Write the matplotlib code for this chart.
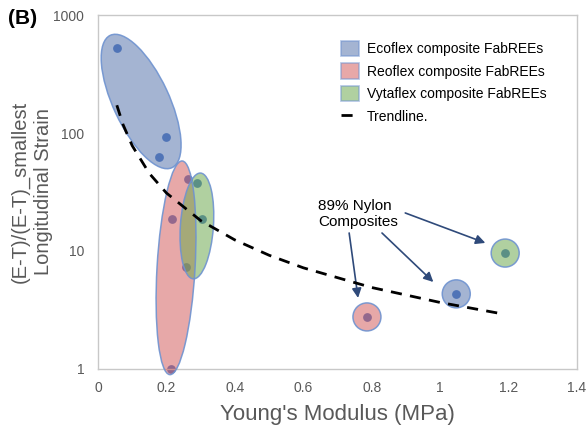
import matplotlib
matplotlib.use("Agg")
import matplotlib.pyplot as plt
from matplotlib.patches import Ellipse, Patch
from matplotlib.lines import Line2D
from matplotlib.transforms import ScaledTranslation
from matplotlib.ticker import FixedLocator, NullLocator

plt.rcParams["font.family"] = ["Liberation Sans", "DejaVu Sans"]

# scatter points (Young's modulus in MPa, normalised strain)
eco_x = [0.056, 0.200, 0.178]
eco_y = [525, 92, 63]
reo_x = [0.263, 0.216, 0.257, 0.213]
reo_y = [41, 18.7, 7.3, 1.0]
vyta_x = [0.289, 0.304]
vyta_y = [37.7, 18.7]

# 89% nylon composites (Reoflex, Ecoflex, Vytaflex)
nylon_x = [0.786, 1.047, 1.190]
nylon_y = [2.76, 4.33, 9.6]

# trendline
trend_x = [0.055, 0.073, 0.1, 0.15, 0.2, 0.3, 0.4, 0.5, 0.6, 0.8, 1.0, 1.19]
trend_y = [172, 118, 78, 45.4, 31, 18.1, 12.4, 9.2, 7.2, 4.9, 3.66, 2.9]

labels = ["Ecoflex composite FabREEs", "Reoflex composite FabREEs",
          "Vytaflex composite FabREEs"]
fills = ["#5A77AD", "#D56161", "#6FAA52"]
edge = "#6F93D0"
dot = "#4472C4"
gray = "#595959"

fig = plt.figure(figsize=(5.87, 4.30), dpi=100)
ax = fig.add_axes([0.167, 0.142, 0.816, 0.823])


def blob(cx, cy, w, h, angle, color):
    # size in pixels, centre in data units
    trans = fig.dpi_scale_trans + ScaledTranslation(cx, cy, ax.transData)
    e = Ellipse((0, 0), w / 100, h / 100, angle=angle, transform=trans,
                facecolor=color, alpha=0.55, edgecolor="none", zorder=3,
                clip_on=False)
    ax.add_patch(e)
    e2 = Ellipse((0, 0), w / 100, h / 100, angle=angle, transform=trans,
                 facecolor="none", edgecolor=edge, lw=1.1, alpha=0.9, zorder=4,
                 clip_on=False)
    ax.add_patch(e2)


ax.set_xscale("linear")
ax.set_yscale("log")
ax.set_xlim(0, 1.4)
ax.set_ylim(1, 1000)

ax.scatter(eco_x + reo_x + vyta_x + nylon_x, eco_y + reo_y + vyta_y + nylon_y,
           s=40, color=dot, zorder=2, linewidths=0, clip_on=False)

blob(0.126, 185, 146, 56, -65, fills[0])
blob(0.228, 7.2, 214, 38, 86.7, fills[1])
blob(0.289, 16.3, 106, 33, 86, fills[2])
for x, y, c in zip(nylon_x, nylon_y, [fills[1], fills[0], fills[2]]):
    blob(x, y, 28, 28, 0, c)

ax.plot(trend_x, trend_y, color="black", lw=2, dashes=(4, 3), zorder=5)

ax.text(0.643, 20.6, "89% Nylon\nComposites", fontsize=11, ha="left",
        va="center", multialignment="left", color="black")
arrows = [((0.734, 14.2), (0.760, 4.0)),
          ((0.830, 14.2), (0.980, 5.46)),
          ((0.898, 21.0), (1.132, 11.7))]
for tail, tip in arrows:
    ax.annotate("", xy=tip, xytext=tail,
                arrowprops=dict(arrowstyle="-|>", color="#2F4A7A", lw=1.2,
                                mutation_scale=14, shrinkA=0, shrinkB=0))

ax.set_xticks([0, 0.2, 0.4, 0.6, 0.8, 1.0, 1.2, 1.4])
ax.set_xticklabels(["0", "0.2", "0.4", "0.6", "0.8", "1", "1.2", "1.4"])
ax.yaxis.set_major_locator(FixedLocator([1, 10, 100, 1000]))
ax.yaxis.set_minor_locator(NullLocator())
ax.set_yticklabels(["1", "10", "100", "1000"])
ax.tick_params(length=0, labelsize=10, labelcolor=gray)
ax.tick_params(axis="x", pad=9)
ax.tick_params(axis="y", pad=10)
for s in ax.spines.values():
    s.set_color("#C8C8C8")
    s.set_linewidth(1)

ax.set_xlabel("Young's Modulus (MPa)", fontsize=16, color=gray, labelpad=6)
ax.set_ylabel("(E-T)/(E-T)_smallest\nLongitudinal Strain", fontsize=14.5,
              color=gray, labelpad=0, linespacing=1.3)

handles = [Patch(facecolor=c, alpha=0.55, edgecolor=edge, lw=1.2) for c in fills]
handles.append(Line2D([0], [0], color="black", lw=2, dashes=(4, 3)))
ax.legend(handles, labels + ["Trendline."], loc="upper left",
          bbox_to_anchor=(335 / 587, 1 - 35 / 430), bbox_transform=fig.transFigure,
          frameon=False, fontsize=10, handlelength=1.3, handleheight=1.3,
          labelspacing=0.55, handletextpad=0.6, borderaxespad=0)

fig.text(8 / 587, 1 - 18 / 430, "(B)", fontsize=15, fontweight="bold",
         va="center", ha="left")

fig.savefig("out.png", dpi=100)
plt.close(fig)
